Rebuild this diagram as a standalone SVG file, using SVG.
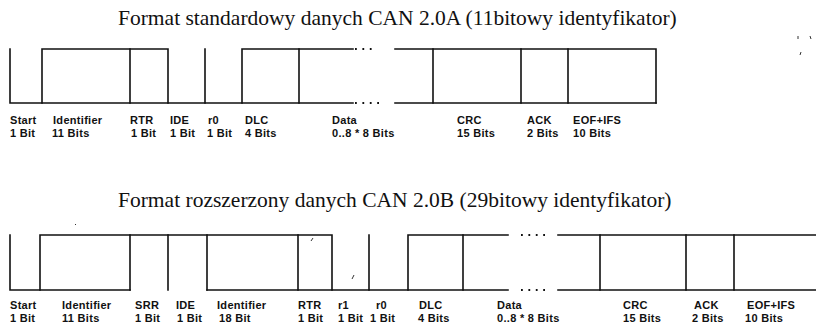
<svg xmlns="http://www.w3.org/2000/svg" width="816" height="328" viewBox="0 0 816 328">
<style>
.t{font-family:"Liberation Serif","Times New Roman",serif;font-size:21.5px;fill:#111}
.l{font-family:"Liberation Sans",Arial,sans-serif;font-size:11px;font-weight:bold;fill:#111;letter-spacing:0.3px}
.w{fill:none;stroke:#111;stroke-width:1.6;stroke-linecap:square}
.d{fill:none;stroke:#111;stroke-width:1.8;stroke-dasharray:1.8 5.6;stroke-linecap:butt}
.a{fill:none;stroke:#333;stroke-width:1}
</style>
<rect width="816" height="328" fill="#fff"/>
<g id="title-a"><text class="t" x="118" y="25">Format standardowy danych CAN 2.0A (11bitowy identyfikator)</text></g>
<g id="title-b"><text class="t" x="118" y="207">Format rozszerzony danych CAN 2.0B (29bitowy identyfikator)</text></g>

<g id="frame-a" class="w">
<path d="M10 49V103H353M395 103H656"/>
<path d="M42 103V49H168V103M242 103V49H353M395 49H656V103"/>
<path d="M130 49V103M205 49V103M299 49V103M433 49V103M521 49V103M568 49V103"/>
<path class="d" d="M355 49H373M355 103H380"/>
</g>

<g id="frame-b" class="w">
<path d="M10 235V290H130M207 290H508M558 290H816"/>
<path d="M40 290V235H332V290M408 290V235H508M558 235H816"/>
<path d="M130 235V290M168 235V290M207 235V290M298 235V290M369 235V290M463 235V290M600 235V290M686 235V290M734 235V290"/>
<path class="d" d="M521 235H546M521 290H546"/>
</g>

<g id="labels-a" class="l">
<g id="a-start"><text x="10" y="124">Start</text><text x="10" y="137">1 Bit</text></g>
<g id="a-id"><text x="53" y="124">Identifier</text><text x="52" y="137">11 Bits</text></g>
<g id="a-rtr"><text x="130" y="124">RTR</text><text x="131" y="137">1 Bit</text></g>
<g id="a-ide"><text x="170" y="124">IDE</text><text x="170" y="137">1 Bit</text></g>
<g id="a-r0"><text x="208" y="124">r0</text><text x="207" y="137">1 Bit</text></g>
<g id="a-dlc"><text x="245" y="124">DLC</text><text x="245" y="137">4 Bits</text></g>
<g id="a-data"><text x="332" y="124">Data</text><text x="332" y="137">0..8 * 8 Bits</text></g>
<g id="a-crc"><text x="457" y="124">CRC</text><text x="457" y="137">15 Bits</text></g>
<g id="a-ack"><text x="527" y="124">ACK</text><text x="527" y="137">2 Bits</text></g>
<g id="a-eof"><text x="573" y="124">EOF+IFS</text><text x="573" y="137">10 Bits</text></g>
</g>

<g id="labels-b" class="l">
<g id="b-start"><text x="10" y="309">Start</text><text x="10" y="322">1 Bit</text></g>
<g id="b-id"><text x="62" y="309">Identifier</text><text x="62" y="322">11 Bits</text></g>
<g id="b-srr"><text x="135" y="309">SRR</text><text x="135" y="322">1 Bit</text></g>
<g id="b-ide"><text x="176" y="309">IDE</text><text x="177" y="322">1 Bit</text></g>
<g id="b-id18"><text x="217" y="309">Identifier</text><text x="219" y="322">18 Bit</text></g>
<g id="b-rtr"><text x="298" y="309">RTR</text><text x="298" y="322">1 Bit</text></g>
<g id="b-r1"><text x="338" y="309">r1</text><text x="338" y="322">1 Bit</text></g>
<g id="b-r0"><text x="376" y="309">r0</text><text x="370" y="322">1 Bit</text></g>
<g id="b-dlc"><text x="419" y="309">DLC</text><text x="418" y="322">4 Bits</text></g>
<g id="b-data"><text x="497" y="309">Data</text><text x="497" y="322">0..8 * 8 Bits</text></g>
<g id="b-crc"><text x="623" y="309">CRC</text><text x="623" y="322">15 Bits</text></g>
<g id="b-ack"><text x="694" y="309">ACK</text><text x="692" y="322">2 Bits</text></g>
<g id="b-eof"><text x="747" y="309">EOF+IFS</text><text x="745" y="322">10 Bits</text></g>
</g>

<g id="specks" class="a">
<path d="M798 36v3M810 36l1 3M801 52l-1 3M75 224l1 1M311 241l2-3M352 279l2-4"/>
</g>
</svg>
